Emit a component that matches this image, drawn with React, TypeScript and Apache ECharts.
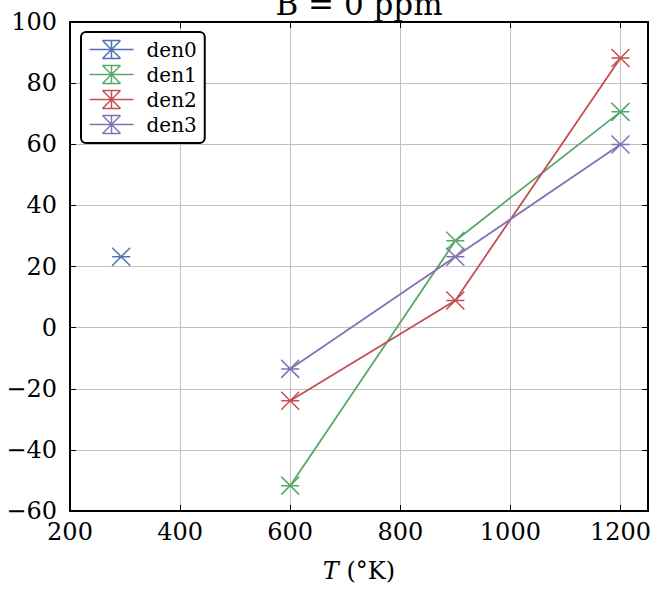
import React, { useEffect, useRef } from "react";
import * as echarts from "echarts";

const seriesNames = ["den0", "den1", "den2", "den3"];
const colors = ["#4C72B0", "#55A868", "#C44E52", "#8172B2"];
const den0: [number, number][] = [[293, 23.2]];
const den1: [number, number][] = [[600, -51.7], [900, 28.4], [1200, 70.6]];
const den2: [number, number][] = [[600, -23.9], [900, 8.9], [1200, 88.2]];
const den3: [number, number][] = [[600, -13.5], [900, 23.2], [1200, 59.9]];
const allData = [den0, den1, den2, den3];

const FONT = "DejaVu Serif";
const markerPath = "path://M0 0L18 18M18 0L0 18M0 9L18 9";
const legendPath = "path://M0 9L44 9M13 0L31 18M31 0L13 18M22 0L22 18M13 0L31 0M13 18L31 18";

export default function App() {
  const ref = useRef<HTMLDivElement>(null);
  useEffect(() => {
    if (!ref.current) return;
    const chart = echarts.init(ref.current, null, { renderer: "svg" });
    const axisCommon = {
      axisLine: { show: true, onZero: false, lineStyle: { color: "#000", width: 2 } },
      axisTick: { show: true, inside: true, length: 6, lineStyle: { color: "#000", width: 1 } },
    };
    chart.setOption({
      animation: false,
      title: {
        text: "B = 0 ppm",
        left: 359,
        textAlign: "center",
        top: -12,
        padding: 0,
        textStyle: { fontFamily: FONT, fontSize: 31, fontWeight: "normal", color: "#000" },
      },
      grid: { left: 70, right: 11, top: 22, bottom: 78, containLabel: false },
      legend: {
        left: 81,
        top: 32,
        orient: "vertical",
        itemWidth: 44,
        itemHeight: 18,
        itemGap: 2,
        padding: [6, 8, 7, 6],
        borderColor: "#000",
        borderWidth: 2,
        borderRadius: 5,
        backgroundColor: "#fff",
        textStyle: { fontFamily: FONT, fontSize: 20, color: "#000", padding: [0, 0, 0, 8] },
        data: seriesNames.map((n, i) => ({
          name: n,
          icon: legendPath,
          itemStyle: { color: "none", borderColor: colors[i], borderWidth: 1.5 },
        })),
      },
      xAxis: [
        {
          type: "value",
          min: 200,
          max: 1250,
          interval: 200,
          position: "bottom",
          ...axisCommon,
          axisLabel: {
            showMaxLabel: false,
            fontFamily: FONT,
            fontSize: 24,
            color: "#000",
            margin: 9,
            formatter: (v: number) => String(v),
          },
          splitLine: { show: true, lineStyle: { color: "#c0c0c0", width: 1 } },
          name: "{i|T} (°K)",
          nameLocation: "middle",
          nameGap: 48,
          nameTextStyle: {
            fontFamily: FONT,
            fontSize: 24,
            color: "#000",
            rich: { i: { fontFamily: FONT, fontSize: 24, fontStyle: "italic", color: "#000" } },
          },
        },
        {
          type: "value",
          min: 200,
          max: 1250,
          interval: 200,
          position: "top",
          ...axisCommon,
          axisLabel: { show: false },
          splitLine: { show: false },
        },
      ],
      yAxis: [
        {
          type: "value",
          min: -60,
          max: 100,
          interval: 20,
          position: "left",
          ...axisCommon,
          axisLabel: {
            fontFamily: FONT,
            fontSize: 24,
            color: "#000",
            margin: 13,
            formatter: (v: number) => String(v).replace("-", "\u2212"),
          },
          splitLine: { show: true, lineStyle: { color: "#c0c0c0", width: 1 } },
        },
        {
          type: "value",
          min: -60,
          max: 100,
          interval: 20,
          position: "right",
          ...axisCommon,
          axisLabel: { show: false },
          splitLine: { show: false },
        },
      ],
      series: allData.map((d, i) => ({
        name: seriesNames[i],
        type: "line",
        xAxisIndex: 0,
        yAxisIndex: 0,
        data: d,
        color: colors[i],
        symbol: markerPath,
        symbolSize: 18,
        showSymbol: true,
        lineStyle: { color: colors[i], width: 1.8 },
        itemStyle: { color: "none", borderColor: colors[i], borderWidth: 1.5 },
        emphasis: { disabled: true },
        z: 3,
      })),
    });
    return () => chart.dispose();
  }, []);
  return <div ref={ref} style={{ width: 659, height: 589, position: "absolute", left: 0, top: 0 }} />;
}
